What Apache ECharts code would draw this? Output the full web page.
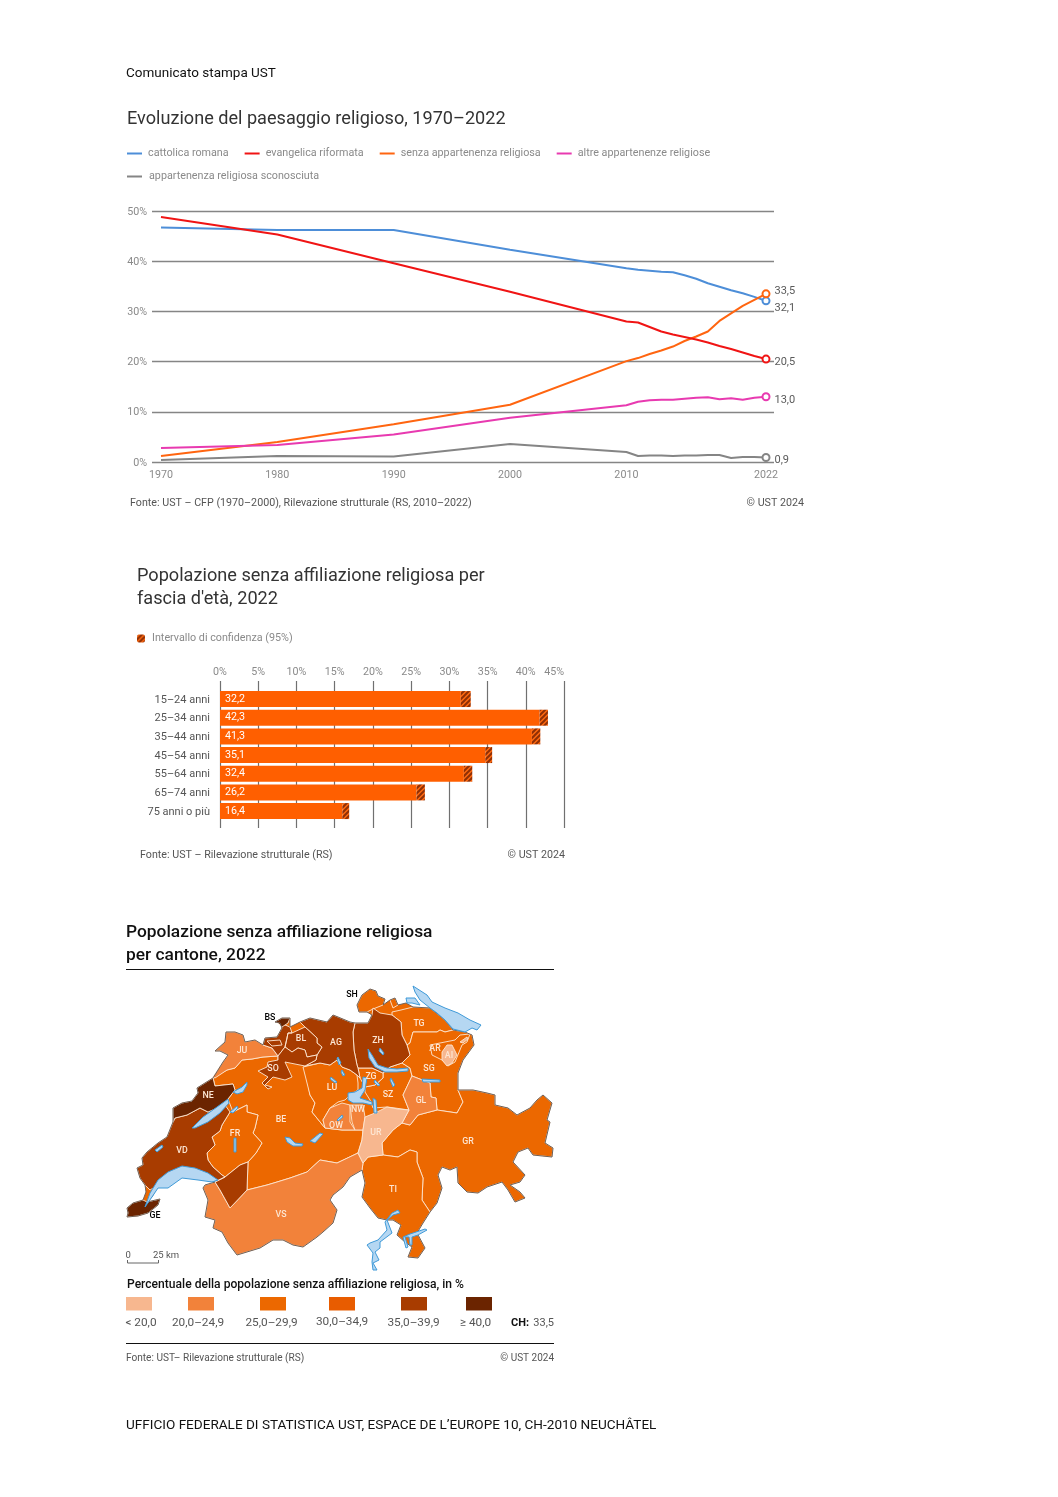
<!DOCTYPE html>
<html><head><meta charset="utf-8">
<style>html,body{margin:0;padding:0;background:#fff}#c{width:1058px;height:1497px}</style>
<script src="https://cdn.jsdelivr.net/npm/echarts@6/dist/echarts.min.js"></script>
</head><body><div id="c"></div>
<script>
// ---------- line chart data ----------
const years = [1970,1980,1990,2000,2010,2011,2012,2013,2014,2015,2016,2017,2018,2019,2020,2021,2022];
const xTickYears = [1970,1980,1990,2000,2010,2022];
const catholic = [46.7,46.2,46.2,42.3,38.6,38.3,38.1,37.9,37.8,37.2,36.5,35.6,34.9,34.2,33.6,32.9,32.1];
const reformed = [48.8,45.3,39.6,33.9,28.0,27.8,26.9,26.0,25.4,24.9,24.4,23.8,23.1,22.5,21.8,21.1,20.5];
const noReligion = [1.2,4.0,7.5,11.4,20.1,20.7,21.5,22.2,23.0,24.1,25.0,26.0,28.1,29.6,31.1,32.3,33.5];
const otherRel = [2.8,3.4,5.5,8.8,11.3,12.0,12.3,12.4,12.4,12.6,12.8,12.9,12.5,12.7,12.4,12.8,13.0];
const unknownRel = [0.4,1.2,1.1,3.6,2.0,1.2,1.3,1.3,1.2,1.3,1.3,1.4,1.4,0.8,1.0,1.0,0.9];
const lineNames = ['cattolica romana','evangelica riformata','senza appartenenza religiosa','altre appartenenze religiose','appartenenza religiosa sconosciuta'];
// ---------- bar chart data ----------
const ageGroups = ['15–24 anni','25–34 anni','35–44 anni','45–54 anni','55–64 anni','65–74 anni','75 anni o più'];
const ageValues = [32.2,42.3,41.3,35.1,32.4,26.2,16.4];
const ageLow = [31.5,41.8,40.8,34.7,31.9,25.7,16.0];
const ageHigh = [32.8,42.9,41.9,35.6,33.0,26.8,16.9];
// ---------- map data ----------
const cantonCodes = ['BE','FR','LU','SZ','ZG','TG','SG','GR','TI','AR','SH','JU','VS','GL','OW','NW','UR','AI','VD','ZH','AG','BL','SO','NE','GE','BS'];
const cantonValues = [28,28,28,28,29,29,28,27,28,28,29,23,23,23,23,23,17,16,37,37,36,36,36,44,41,41];
const classLabels = ['< 20,0','20,0–24,9','25,0–29,9','30,0–34,9','35,0–39,9','≥ 40,0'];
const classLimits = [20,25,30,35,40];
const classColors = ['#f7b78f','#f2823a','#ec6800','#e85c00','#a83c00','#6b2400'];

const OUT = [[215,1051],[225,1042],[226,1032],[235,1032],[243,1035],[245,1042],[255,1040],[263,1045],[265,1038],[277,1037],[282,1028],[280,1023],[275,1022],[282,1018],[290,1018],[290,1027],[300,1022],[310,1018],[327,1022],[333,1015],[338,1017],[350,1022],[355,1023],[368,1023],[372,1015],[367,1012],[359,1012],[357,1005],[362,995],[370,989],[376,991],[378,996],[385,999],[383,1005],[390,1000],[395,998],[398,1005],[406,1003],[413,1007],[430,1008],[445,1020],[453,1030],[465,1032],[472,1035],[474,1045],[463,1060],[458,1073],[458,1090],[473,1090],[487,1093],[495,1095],[495,1105],[508,1108],[517,1115],[530,1108],[537,1100],[543,1095],[552,1103],[547,1120],[550,1122],[545,1143],[553,1148],[552,1157],[533,1155],[528,1148],[518,1152],[513,1162],[525,1175],[520,1182],[510,1185],[520,1192],[525,1198],[515,1202],[508,1190],[502,1182],[487,1187],[478,1193],[467,1192],[458,1183],[457,1167],[450,1170],[442,1167],[438,1175],[442,1188],[437,1203],[430,1212],[423,1223],[417,1233],[425,1248],[418,1258],[408,1257],[412,1247],[405,1242],[397,1235],[401,1225],[393,1220],[387,1220],[378,1218],[370,1208],[362,1197],[365,1183],[362,1170],[350,1177],[343,1187],[333,1195],[330,1200],[337,1210],[333,1223],[323,1232],[317,1237],[303,1247],[293,1245],[283,1240],[273,1240],[260,1248],[237,1255],[228,1243],[222,1232],[213,1228],[215,1220],[205,1217],[208,1200],[203,1188],[205,1185],[215,1182],[198,1179],[182,1175],[168,1185],[158,1185],[152,1197],[147,1202],[160,1199],[158,1205],[148,1213],[138,1216],[127,1217],[128,1213],[127,1208],[133,1203],[143,1200],[146,1192],[145,1185],[140,1178],[137,1168],[143,1165],[142,1158],[147,1152],[158,1143],[167,1137],[173,1122],[173,1108],[182,1103],[192,1101],[198,1093],[197,1088],[213,1078],[223,1062],[228,1055],[220,1051]];
const cantonShapes = {
 BE:[[[213,1078],[227,1070],[235,1068],[242,1060],[252,1059],[263,1057],[278,1056],[278,1060],[303,1064],[305,1067],[310,1095],[315,1103],[312,1112],[325,1128],[342,1130],[355,1130],[363,1130],[362,1140],[358,1153],[337,1163],[320,1160],[307,1172],[290,1178],[277,1182],[267,1185],[255,1188],[247,1190],[248,1162],[256,1153],[262,1143],[253,1133],[255,1128],[258,1115],[247,1112],[247,1105],[233,1112],[228,1099],[235,1090],[233,1084],[215,1086]]],
 FR:[[[212,1137],[220,1131],[222,1125],[230,1112],[233,1112],[247,1105],[247,1112],[258,1115],[255,1128],[253,1133],[262,1143],[256,1153],[248,1162],[240,1165],[225,1177],[222,1175],[213,1167],[208,1160],[207,1153],[215,1145]],[[203,1135],[206,1132],[212,1129],[214,1132],[211,1136]],[[216,1120],[222,1113],[226,1114],[222,1122],[218,1125]]],
 LU:[[[303,1067],[320,1063],[330,1065],[337,1060],[342,1067],[350,1070],[357,1075],[358,1083],[358,1090],[350,1095],[345,1100],[338,1102],[330,1108],[323,1120],[325,1128],[312,1112],[315,1103],[310,1095]]],
 SZ:[[[383,1073],[390,1067],[402,1063],[410,1068],[412,1076],[403,1095],[409,1110],[395,1108],[387,1107],[373,1108],[370,1100],[365,1092],[365,1087],[375,1085],[383,1078]]],
 ZG:[[[358,1068],[372,1068],[383,1073],[383,1078],[375,1085],[365,1087],[360,1078]]],
 TG:[[[392,1015],[392,1012],[401,1010],[413,1007],[430,1008],[445,1020],[453,1030],[445,1032],[440,1030],[437,1032],[413,1032],[410,1043],[407,1045],[402,1035],[401,1022]]],
 SG:[[[407,1045],[410,1043],[413,1032],[437,1032],[440,1030],[445,1032],[453,1030],[465,1032],[472,1035],[474,1045],[463,1060],[458,1073],[458,1090],[463,1102],[457,1113],[437,1110],[436,1098],[431,1097],[430,1083],[412,1076],[410,1068],[402,1063],[410,1055]]],
 GR:[[[457,1113],[463,1102],[458,1090],[473,1090],[487,1093],[495,1095],[495,1105],[508,1108],[517,1115],[530,1108],[537,1100],[543,1095],[552,1103],[547,1120],[550,1122],[545,1143],[553,1148],[552,1157],[533,1155],[528,1148],[518,1152],[513,1162],[525,1175],[520,1182],[510,1185],[520,1192],[525,1198],[515,1202],[508,1190],[502,1182],[487,1187],[478,1193],[467,1192],[458,1183],[457,1167],[450,1170],[442,1167],[438,1175],[442,1188],[437,1203],[430,1212],[422,1200],[423,1178],[417,1162],[417,1152],[410,1150],[398,1157],[383,1155],[382,1143],[393,1130],[402,1123],[410,1125],[418,1115],[437,1110]]],
 TI:[[[363,1163],[368,1157],[383,1155],[398,1157],[410,1150],[417,1152],[417,1162],[423,1178],[422,1200],[430,1212],[423,1223],[417,1233],[425,1248],[418,1258],[408,1257],[412,1247],[405,1242],[397,1235],[401,1225],[393,1220],[387,1220],[378,1218],[370,1208],[362,1197],[365,1183],[362,1170]]],
 AR:[[[430,1045],[440,1043],[455,1040],[460,1035],[470,1034],[467,1042],[462,1045],[455,1062],[448,1066],[442,1060],[432,1055]]],
 SH:[[[357,1005],[362,995],[370,989],[376,991],[378,996],[385,999],[383,1005],[373,1009],[367,1012],[359,1012]],[[390,1000],[395,998],[398,1005],[393,1008]]],
 JU:[[[215,1051],[225,1042],[226,1032],[235,1032],[243,1035],[245,1042],[255,1040],[263,1045],[272,1048],[278,1056],[263,1057],[252,1059],[242,1060],[235,1068],[227,1070],[215,1078],[213,1077],[223,1062],[228,1055],[220,1051]]],
 VS:[[[205,1185],[215,1182],[220,1190],[230,1208],[247,1190],[255,1188],[267,1185],[277,1182],[290,1178],[307,1172],[320,1160],[337,1163],[358,1153],[363,1163],[362,1170],[350,1177],[343,1187],[333,1195],[330,1200],[337,1210],[333,1223],[323,1232],[317,1237],[303,1247],[293,1245],[283,1240],[273,1240],[260,1248],[237,1255],[228,1243],[222,1232],[213,1228],[215,1220],[205,1217],[208,1200],[203,1188]]],
 GL:[[[412,1076],[430,1083],[431,1097],[436,1098],[437,1110],[418,1115],[410,1125],[402,1123],[409,1110],[403,1095]]],
 OW:[[[325,1128],[323,1120],[330,1108],[342,1103],[350,1105],[350,1122],[355,1130],[342,1130]]],
 NW:[[[350,1105],[363,1105],[365,1117],[363,1130],[355,1130],[352,1122]]],
 UR:[[[365,1117],[375,1113],[387,1107],[398,1109],[409,1110],[402,1123],[393,1130],[382,1143],[383,1155],[368,1157],[363,1163],[358,1153],[362,1140],[363,1130]]],
 AI:[[[442,1052],[447,1045],[452,1045],[457,1055],[452,1063],[447,1066],[442,1060]],[[460,1042],[467,1037],[468,1039],[463,1043]]],
 VD:[[[173,1122],[175,1118],[187,1115],[200,1108],[208,1112],[225,1105],[230,1112],[222,1125],[220,1131],[212,1137],[215,1145],[207,1153],[208,1160],[213,1167],[222,1175],[225,1177],[215,1182],[198,1179],[182,1175],[168,1185],[158,1185],[150,1190],[145,1185],[140,1178],[137,1168],[143,1165],[142,1158],[147,1152],[158,1143],[167,1137]],[[215,1182],[225,1177],[240,1165],[248,1162],[247,1190],[230,1208],[220,1190]]],
 ZH:[[[353,1032],[355,1023],[368,1023],[372,1015],[373,1008],[380,1013],[392,1015],[401,1022],[402,1035],[407,1045],[410,1055],[402,1063],[390,1067],[383,1073],[372,1068],[358,1068],[357,1065],[354,1050]]],
 AG:[[[300,1022],[310,1018],[327,1022],[333,1015],[338,1017],[350,1022],[355,1023],[353,1032],[354,1050],[357,1065],[358,1068],[360,1078],[357,1075],[350,1070],[342,1067],[337,1060],[330,1065],[320,1063],[305,1066],[316,1060],[317,1055],[322,1047],[317,1043],[317,1038],[305,1027]]],
 BL:[[[288,1033],[292,1033],[305,1027],[317,1038],[317,1043],[322,1047],[317,1055],[307,1057],[305,1050],[298,1048],[292,1052],[285,1047],[287,1038]],[[265,1038],[277,1037],[282,1028],[280,1023],[290,1027],[292,1033],[288,1033],[287,1038],[285,1047],[278,1056],[272,1048],[263,1045]]],
 SO:[[[278,1056],[285,1047],[292,1052],[298,1048],[305,1050],[307,1057],[317,1055],[316,1060],[305,1066],[290,1063],[285,1062],[292,1077],[285,1080],[273,1077],[265,1085],[272,1087],[268,1089],[262,1083],[268,1077],[258,1071],[267,1067],[268,1062],[278,1060]],[[267,1041],[280,1040],[282,1045],[272,1046]]],
 NE:[[[173,1108],[182,1103],[192,1101],[198,1093],[197,1088],[213,1078],[215,1086],[233,1084],[235,1090],[228,1099],[225,1105],[208,1112],[200,1108],[187,1115],[175,1118],[173,1122]]],
 GE:[[[127,1208],[133,1203],[143,1200],[147,1202],[160,1199],[158,1205],[148,1213],[138,1216],[127,1217],[128,1213]]],
 BS:[[[275,1022],[282,1018],[290,1018],[288,1023],[282,1027],[278,1023]]]
};
const lakeShapes = [
 [[413,986],[427,995],[432,1002],[445,1008],[458,1013],[470,1020],[481,1025],[477,1030],[472,1028],[465,1032],[453,1029],[445,1020],[437,1013],[430,1008],[420,1000],[415,992]],
 [[406,998],[415,998],[420,1005],[412,1003],[407,1003]],
 [[145,1207],[150,1193],[158,1180],[168,1172],[182,1166],[195,1168],[208,1173],[218,1180],[212,1182],[198,1180],[182,1178],[168,1188],[158,1188],[152,1197]],
 [[192,1128],[203,1117],[217,1107],[228,1099],[229,1103],[220,1113],[208,1122],[195,1128]],
 [[233,1092],[242,1087],[247,1082],[247,1085],[243,1092],[237,1094]],
 [[230,1112],[237,1106],[238,1108],[233,1113]],
 [[234,1138],[236,1138],[236,1152],[234,1152]],
 [[155,1150],[162,1145],[163,1147],[157,1152]],
 [[285,1137],[290,1138],[295,1143],[303,1144],[302,1146],[293,1146],[287,1142]],
 [[310,1141],[320,1133],[323,1134],[315,1143]],
 [[348,1093],[355,1092],[362,1088],[363,1077],[367,1078],[365,1090],[360,1098],[372,1102],[372,1105],[363,1103],[353,1103],[348,1100]],
 [[373,1098],[376,1100],[377,1113],[374,1113]],
 [[331,1077],[337,1082],[335,1083],[330,1079]],
 [[342,1070],[345,1075],[343,1076],[341,1072]],
 [[338,1057],[341,1063],[339,1065],[337,1058]],
 [[337,1120],[342,1115],[343,1117],[338,1121]],
 [[375,1080],[380,1085],[378,1086],[374,1082]],
 [[391,1078],[395,1085],[393,1087],[390,1080]],
 [[368,1049],[372,1055],[378,1065],[387,1068],[397,1069],[408,1068],[408,1071],[397,1072],[385,1072],[375,1067],[369,1058]],
 [[380,1048],[384,1053],[383,1055],[379,1051]],
 [[422,1079],[440,1080],[440,1082],[423,1082]],
 [[400,1213],[393,1215],[387,1220],[392,1233],[380,1242],[380,1248],[375,1252],[379,1260],[373,1263],[377,1270],[373,1270],[372,1262],[373,1253],[367,1245],[370,1243],[378,1240],[387,1230],[385,1222],[392,1213],[398,1210]],
 [[427,1230],[418,1235],[412,1237],[412,1245],[410,1245],[409,1237],[405,1237],[408,1247],[406,1248],[403,1237],[410,1234],[425,1229]]
];
const labelAnchors = {SH:[352,995],BS:[270,1018],GE:[155,1216],JU:[242,1051],BL:[301,1039],AG:[336,1043],ZH:[378,1041],TG:[419,1024],AR:[435,1049],AI:[449,1056],SG:[429,1069],SO:[273,1069],NE:[208,1096],LU:[332,1088],ZG:[371,1077],SZ:[388,1095],GL:[421,1101],NW:[358,1110],OW:[336,1126],UR:[376,1133],BE:[281,1120],FR:[235,1134],VD:[182,1151],GR:[468,1142],TI:[393,1190],VS:[281,1215]};
const blackLabels = ['SH','BS','GE'];

// ---------- build ----------
const FONT = 'Roboto';
const comma = v => v.toFixed(1).replace('.',',');
const classColor = v => { let i = 0; while (i < classLimits.length && v >= classLimits[i]) i++; return classColors[i]; };

const feats = [];
feats.push({type:'Feature',properties:{name:'base'},geometry:{type:'Polygon',coordinates:[OUT]}});
cantonCodes.forEach(c => feats.push({type:'Feature',properties:{name:c,cp:labelAnchors[c]},geometry:{type:'MultiPolygon',coordinates:cantonShapes[c].map(r=>[r])}}));
feats.push({type:'Feature',properties:{name:'outline'},geometry:{type:'Polygon',coordinates:[OUT]}});
lakeShapes.forEach((r,i) => feats.push({type:'Feature',properties:{name:'lake'+i},geometry:{type:'Polygon',coordinates:[r]}}));
echarts.registerMap('ch',{type:'FeatureCollection',features:feats});

const allPts = [OUT].concat(lakeShapes).flat();
const minX = Math.min(...allPts.map(p=>p[0])), maxX = Math.max(...allPts.map(p=>p[0]));
const minY = Math.min(...allPts.map(p=>p[1])), maxY = Math.max(...allPts.map(p=>p[1]));

const mapData = [
  {name:'base',value:0,label:{show:false},itemStyle:{areaColor:classColors[2],borderWidth:0}},
  ...cantonCodes.map((c,i)=>({name:c,value:cantonValues[i],itemStyle:{areaColor:classColor(cantonValues[i])},
     label:{color:blackLabels.includes(c)?'#000':'#fde6d3'}})),
  {name:'outline',value:0,label:{show:false},itemStyle:{areaColor:'rgba(0,0,0,0)',borderColor:'#6f625a',borderWidth:1}},
  ...lakeShapes.map((r,i)=>({name:'lake'+i,value:0,label:{show:false},itemStyle:{areaColor:'#b5d7f2',borderColor:'#3f9ad8',borderWidth:1}}))
];

const lineSets = [catholic,reformed,noReligion,otherRel,unknownRel];
const lineColors = ['#4d8ed8','#f01414','#ff6510','#e83ab0','#858585'];
const endLabelDy = [7,3,-3,4,3];
const lineSeries = lineSets.map((vals,s)=>({
  name:lineNames[s],type:'line',xAxisIndex:0,yAxisIndex:0,showAllSymbol:true,smooth:false,z:3+(s===1?1:0),
  lineStyle:{color:lineColors[s],width:2},itemStyle:{color:lineColors[s]},
  data:vals.map((v,i)=>i<vals.length-1?{value:[years[i],v],symbol:'none'}:{
    value:[years[i],v],symbol:'circle',symbolSize:7,itemStyle:{color:'#fff',borderColor:lineColors[s],borderWidth:2},
    label:{show:true,position:'right',distance:4,offset:[0,endLabelDy[s]],formatter:()=>comma(v),color:'#5a5a5a',fontFamily:FONT,fontSize:11}
  })
}));

const t = (text,x,y,size,color,extra) => ({type:'text',x,y:y+size*0.12,silent:true,style:Object.assign({text,fill:color,fontFamily:FONT,fontSize:size,textVerticalAlign:'middle',textAlign:'left'},extra||{})});
const texts = [
  t('Comunicato stampa UST',126,72,13.5,'#111'),
  t('Evoluzione del paesaggio religioso, 1970–2022',127,117.5,18.12,'#333'),
  t('Fonte: UST – CFP (1970–2000), Rilevazione strutturale (RS, 2010–2022)',130,502,10.7,'#555'),
  t('© UST 2024',804,502,10.7,'#555',{textAlign:'right'}),
  t('Popolazione senza affiliazione religiosa per',137,574.5,18.15,'#333'),
  t("fascia d'età, 2022",137,597.5,18.15,'#333'),
  t('Fonte: UST – Rilevazione strutturale (RS)',140,854,10.7,'#555'),
  t('© UST 2024',565,854,10.7,'#555',{textAlign:'right'}),
  t('Popolazione senza affiliazione religiosa',126,931,17.35,'#111',{fontWeight:500}),
  t('per cantone, 2022',126,953.5,17.35,'#111',{fontWeight:500}),
  t('0',125.5,1254,9.5,'#555'),
  t('25 km',153,1254,9.5,'#555'),
  t('Percentuale della popolazione senza affiliazione religiosa, in %',127,1284,12.1,'#111',{fontWeight:500}),
  t('CH:',511,1322,11,'#111',{fontWeight:700}),
  t('33,5',554,1322,11,'#555',{textAlign:'right'}),
  t('Fonte: UST– Rilevazione strutturale (RS)',126,1357.5,10.1,'#555'),
  t('© UST 2024',554,1357.5,10,'#555',{textAlign:'right'}),
  t('UFFICIO FEDERALE DI STATISTICA UST, ESPACE DE L’EUROPE 10, CH-2010 NEUCHÂTEL',126,1424,13.55,'#111')
];
const swatchX = [126,188,260,329,401,466];
const swatchLabelX = [141,198,271.5,342,413.5,475.5];
const swatchLabelY = [1322,1322,1322,1321,1322,1322];
const shapes = [];
classColors.forEach((c,i)=>{
  shapes.push({type:'rect',silent:true,shape:{x:swatchX[i],y:1297,width:26,height:13.5},style:{fill:c}});
  shapes.push(t(classLabels[i],swatchLabelX[i],swatchLabelY[i],11.8,'#555',{textAlign:'center'}));
});
const rule = (x1,y1,x2,y2,c,w) => ({type:'line',silent:true,shape:{x1,y1,x2,y2},style:{stroke:c,lineWidth:w}});
shapes.push(rule(126,969.5,554,969.5,'#111',1),rule(126,1343.5,554,1343.5,'#111',1),
  rule(127.5,1263,158.5,1263,'#666',1),rule(127.5,1260,127.5,1263,'#666',1),rule(158.5,1260,158.5,1263,'#666',1));

// hatch tile for the confidence interval
const hatchTile = document.createElement('canvas');
hatchTile.width = 5; hatchTile.height = 5;
(() => { const g = hatchTile.getContext('2d');
  g.fillStyle = '#ff6a10'; g.fillRect(0,0,5,5);
  g.strokeStyle = '#8f2f05'; g.lineWidth = 2;
  [[-1,1,1,-1],[-1,6,6,-1],[4,6,6,4]].forEach(s=>{g.beginPath();g.moveTo(s[0],s[1]);g.lineTo(s[2],s[3]);g.stroke();});
})();

const hatchName = 'Intervallo di confidenza (95%)';
const legendText = {color:'#8a8a8a',fontFamily:FONT,fontSize:10.75};
const option = {
  animation:false,
  backgroundColor:'#fff',
  textStyle:{fontFamily:FONT},
  legend:[
    {data:lineNames.slice(0,4),padding:0,left:127,top:148,itemWidth:15,itemHeight:2,icon:'rect',itemGap:16,selectedMode:false,textStyle:Object.assign({},legendText,{padding:[0,0,0,1]})},
    {data:lineNames.slice(4),padding:0,left:127,top:171,itemWidth:15,itemHeight:2,icon:'rect',selectedMode:false,textStyle:Object.assign({},legendText,{padding:[0,0,0,2]})},
    {data:[hatchName],padding:0,left:137,top:633,itemWidth:8,itemHeight:8,selectedMode:false,textStyle:Object.assign({},legendText,{padding:[0,0,0,2]})}
  ],
  grid:[
    {left:152,top:211,width:622,height:251},
    {left:220,top:681,width:344,height:147},
    {left:220,top:689.7,width:344,height:130.7}
  ],
  xAxis:[
    {gridIndex:0,type:'value',min:1970-9/11.635,max:2022+8/11.635,splitLine:{show:false},axisTick:{show:false},
     axisLine:{show:false},
     axisLabel:{customValues:xTickYears,color:'#8a8a8a',fontSize:10.7,margin:8,formatter:v=>String(v),showMinLabel:true,showMaxLabel:true}},
    {gridIndex:1,type:'value',position:'top',min:0,max:45,interval:5,axisLine:{show:false},axisTick:{show:false},
     splitLine:{show:true,lineStyle:{color:'#707070',width:1.2}},
     axisLabel:{formatter:'{value}%',color:'#8a8a8a',fontSize:10.7,margin:3,alignMaxLabel:'right'}},
    {gridIndex:2,type:'value',min:0,max:45,show:false}
  ],
  yAxis:[
    {gridIndex:0,type:'value',min:0,max:50,interval:10,axisLine:{show:false},axisTick:{show:false},
     splitLine:{lineStyle:{color:'#858585',width:1.3}},
     axisLabel:{formatter:v=>'{a|'+v+'%}',margin:5,rich:{a:{color:'#8a8a8a',fontFamily:FONT,fontSize:10.7,padding:[2,0,0,0]}}}},
    {gridIndex:1,type:'category',data:[],show:false},
    {gridIndex:2,type:'category',inverse:true,data:ageGroups,axisLine:{show:false},axisTick:{show:false},
     axisLabel:{formatter:v=>'{a|'+v+'}',margin:10,rich:{a:{color:'#555',fontFamily:FONT,fontSize:11,padding:[2,0,0,0]}}}}
  ],
  series:[
    ...lineSeries,
    {type:'bar',name:'stima',xAxisIndex:2,yAxisIndex:2,stack:'a',barWidth:16,z:5,silent:true,
     itemStyle:{color:'#ff5f00'},data:ageLow,
     label:{show:true,position:'insideLeft',distance:5,color:'#fff',fontFamily:FONT,fontSize:10.7,formatter:p=>comma(ageValues[p.dataIndex])}},
    {type:'bar',name:hatchName,xAxisIndex:2,yAxisIndex:2,stack:'a',barWidth:16,z:5,silent:true,
     itemStyle:{color:{image:hatchTile,repeat:'repeat'}},
     data:ageHigh.map((h,i)=>+(h-ageLow[i]).toFixed(2))},
    {type:'map',map:'ch',silent:true,roam:false,showLegendSymbol:false,
     projection:{project:p=>p,unproject:p=>p},
     left:minX,top:minY,width:maxX-minX,height:maxY-minY,
     itemStyle:{borderColor:'#fde6d3',borderWidth:0.9},
     label:{show:true,fontFamily:FONT,fontSize:8.8,fontWeight:500,color:'#fde6d3',
       formatter:p=>cantonCodes.includes(p.name)?p.name:''},
     emphasis:{disabled:true},select:{disabled:true},
     data:mapData}
  ],
  graphic:{elements:texts.concat(shapes)}
};
echarts.init(document.getElementById('c')).setOption(option);
</script></body></html>
